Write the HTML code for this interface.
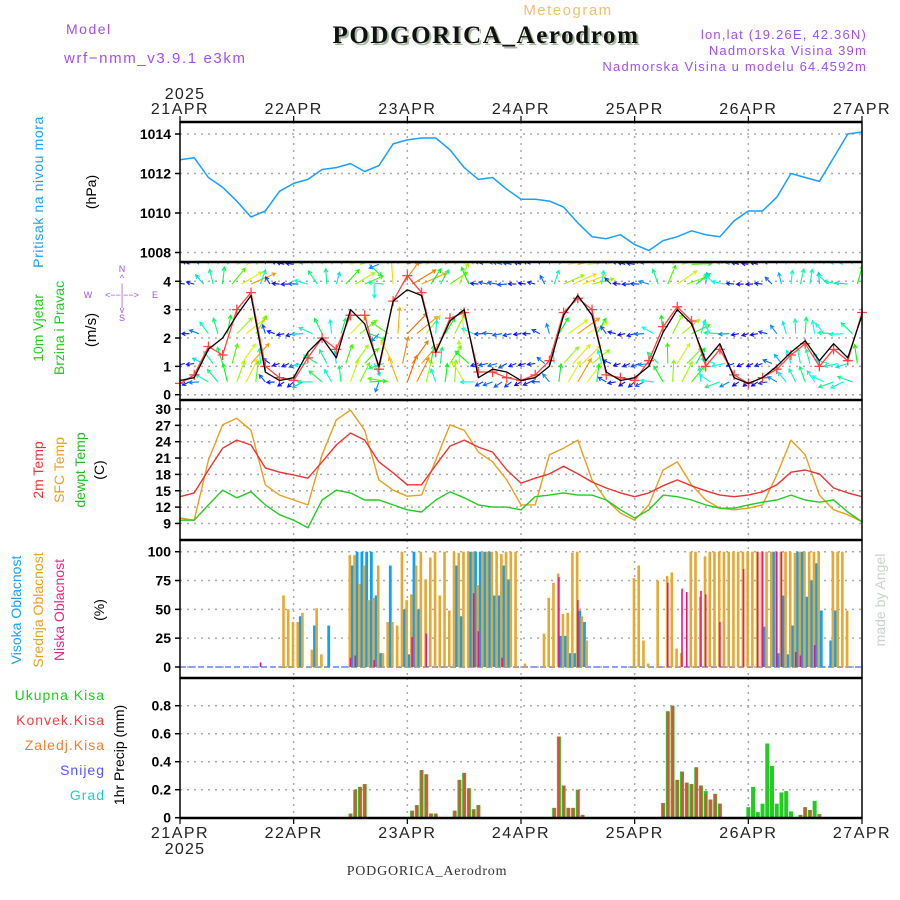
<!DOCTYPE html>
<html><head><meta charset="utf-8"><style>
html,body{margin:0;padding:0;background:#fff;}
svg{display:block;font-family:"Liberation Sans",sans-serif;}
</style></head><body>
<svg id="chart" width="900" height="900" viewBox="0 0 900 900" xmlns="http://www.w3.org/2000/svg">
<defs>
<clipPath id="clipWind"><rect x="180" y="263" width="682" height="137"/></clipPath>
</defs>
<rect x="0" y="0" width="900" height="900" fill="#fff"/>
<text x="66" y="34" font-size="14" fill="#a050f0" letter-spacing="1.5">Model</text>
<text x="64" y="63" font-size="15" fill="#a050f0" letter-spacing="1.6">wrf−nmm_v3.9.1 e3km</text>
<text x="568" y="15" font-size="15" fill="#f0c070" text-anchor="middle" letter-spacing="1.5">Meteogram</text>
<text x="488" y="45" font-size="25" font-weight="bold" font-family="Liberation Serif,serif" fill="#a8bca0" text-anchor="middle" letter-spacing="1.6">PODGORICA_Aerodrom</text>
<text x="486" y="43" font-size="25" font-weight="bold" font-family="Liberation Serif,serif" fill="#111" text-anchor="middle" letter-spacing="1.6">PODGORICA_Aerodrom</text>
<text x="867" y="39" font-size="13" fill="#a050f0" text-anchor="end" letter-spacing="1.2">lon,lat (19.26E, 42.36N)</text>
<text x="867" y="55" font-size="13" fill="#a050f0" text-anchor="end" letter-spacing="1.2">Nadmorska Visina 39m</text>
<text x="867" y="71" font-size="13" fill="#a050f0" text-anchor="end" letter-spacing="1.2">Nadmorska Visina u modelu 64.4592m</text>

<text x="185" y="99" font-size="16" fill="#222" text-anchor="middle" letter-spacing="1.2">2025</text>
<text x="185" y="854" font-size="16" fill="#222" text-anchor="middle" letter-spacing="1.2">2025</text>
<text x="427" y="875" font-size="14" font-family="Liberation Serif,serif" fill="#333" text-anchor="middle" letter-spacing="0.8">PODGORICA_Aerodrom</text>

<text transform="translate(43,192) rotate(-90)" font-size="14" fill="#1a9fff" text-anchor="middle" letter-spacing="0.6">Pritisak na nivou mora</text>
<text transform="translate(96,192) rotate(-90)" font-size="14" fill="#000" text-anchor="middle">(hPa)</text>
<text transform="translate(43,328) rotate(-90)" font-size="14" fill="#22cc22" text-anchor="middle">10m Vjetar</text>
<text transform="translate(64,328) rotate(-90)" font-size="14" fill="#22cc22" text-anchor="middle">Brzina i Pravac</text>
<text transform="translate(96,330) rotate(-90)" font-size="15" fill="#000" text-anchor="middle">(m/s)</text>
<g fill="#a050f0" font-size="9" text-anchor="middle">
<text x="122" y="272">N</text><text x="122" y="281">^</text><text x="122" y="290">|</text>
<text x="122" y="298">&lt;−−|−−&gt;</text><text x="88" y="298">W</text><text x="155" y="298">E</text>
<text x="122" y="306">|</text><text x="122" y="313">v</text><text x="122" y="321">S</text>
</g>
<text transform="translate(43,470) rotate(-90)" font-size="14" fill="#ee3333" text-anchor="middle">2m Temp</text>
<text transform="translate(64,470) rotate(-90)" font-size="14" fill="#e8a020" text-anchor="middle">SFC Temp</text>
<text transform="translate(85,470) rotate(-90)" font-size="14" fill="#22bb22" text-anchor="middle">dewpt Temp</text>
<text transform="translate(104,470) rotate(-90)" font-size="14" fill="#000" text-anchor="middle">(C)</text>
<text transform="translate(21,610) rotate(-90)" font-size="14" fill="#1a9fff" text-anchor="middle">Visoka Oblacnost</text>
<text transform="translate(43,610) rotate(-90)" font-size="14" fill="#e8a020" text-anchor="middle">Srednja Oblacnost</text>
<text transform="translate(64,610) rotate(-90)" font-size="14" fill="#ee2288" text-anchor="middle">Niska Oblacnost</text>
<text transform="translate(104,610) rotate(-90)" font-size="14" fill="#000" text-anchor="middle">(%)</text>
<text transform="translate(885,600) rotate(-90)" font-size="14" fill="#c8d4c8" text-anchor="middle">made by Angel</text>
<g font-size="14" text-anchor="end" letter-spacing="1">
<text x="105" y="700" fill="#22cc22">Ukupna  Kisa</text>
<text x="105" y="725" fill="#ee4444">Konvek.Kisa</text>
<text x="105" y="750" fill="#f08030">Zaledj.Kisa</text>
<text x="105" y="775" fill="#5555ff">Snijeg</text>
<text x="105" y="800" fill="#22cccc">Grad</text>
</g>
<text transform="translate(124,755) rotate(-90)" font-size="14" fill="#000" text-anchor="middle">1hr Precip (mm)</text>
<g id="plot"></g>
</svg>
<script>
// ---------- DATA ----------
const dayLabels = ["21APR","22APR","23APR","24APR","25APR","26APR","27APR"];
const pressureTicks = [1008,1010,1012,1014];
const windTicks = [0,1,2,3,4];
const tempTicks = [9,12,15,18,21,24,27,30];
const cloudTicks = [0,25,50,75,100];
const precipTicks = [0,0.2,0.4,0.6,0.8];
const precipTickLabels = ["0","0.2","0.4","0.6","0.8"];
// 3-hourly series (49 points, 21APR 00 .. 27APR 00)
const pressure = [1012.7,1012.8,1011.8,1011.3,1010.6,1009.8,1010.1,1011.1,1011.5,1011.7,1012.2,1012.3,1012.5,1012.1,1012.4,1013.5,1013.7,1013.8,1013.8,1013.2,1012.3,1011.7,1011.8,1011.2,1010.7,1010.7,1010.6,1010.3,1009.5,1008.8,1008.7,1008.9,1008.4,1008.1,1008.6,1008.8,1009.1,1008.9,1008.8,1009.6,1010.1,1010.1,1010.8,1012.0,1011.8,1011.6,1012.8,1014.0,1014.1];
const temp2m = [13.9,14.6,18.8,22.8,24.3,23.4,19.2,18.4,17.9,17.3,20.3,23.4,25.6,24.3,20.3,18.3,16.1,16.1,19.7,23.2,24.3,23.0,22.1,18.8,16.4,17.3,18.1,19.5,18.1,16.6,15.5,14.6,13.9,14.6,15.9,17.0,15.9,15.0,14.2,13.9,14.2,14.8,16.1,18.4,18.8,18.1,15.5,14.6,13.9];
const tempSfc = [10.0,9.6,20.6,27.1,28.3,26.1,16.1,14.2,13.3,12.4,21.6,28.0,29.8,26.1,17.0,15.1,14.0,14.2,20.6,27.1,26.1,22.1,20.3,17.0,12.4,12.4,21.6,22.8,24.3,17.0,13.3,10.9,9.6,12.4,18.8,20.3,16.1,13.3,11.8,11.5,11.8,12.4,17.9,24.3,21.6,14.2,11.5,10.6,9.3];
const dewpt = [9.6,9.6,12.4,15.1,13.7,14.8,12.4,10.6,9.6,8.2,13.3,15.1,14.6,13.3,13.3,12.4,11.5,11.1,13.3,14.8,13.7,12.4,12.0,12.0,11.5,13.9,14.2,14.6,14.2,14.2,13.3,11.5,10.0,11.5,14.2,13.9,13.3,12.4,11.8,11.8,12.4,12.9,13.3,14.2,13.3,12.9,13.3,11.1,9.3];
const windSpeed = [0.5,0.6,1.6,2.0,2.8,3.5,0.8,0.5,0.6,1.5,2.0,1.3,3.0,2.5,1.0,3.3,3.7,3.5,1.5,2.6,3.0,0.6,0.9,0.8,0.5,0.6,1.0,2.8,3.5,2.8,0.8,0.5,0.6,1.0,2.2,3.0,2.5,1.2,1.8,0.6,0.4,0.6,1.0,1.5,1.9,1.2,1.8,1.3,2.8];
const windGust = [0.4,0.7,1.7,1.4,3.0,3.6,1.0,0.6,0.5,1.3,2.0,1.6,2.8,2.8,0.9,3.3,4.2,3.6,1.5,2.7,2.9,0.8,0.8,0.6,0.5,0.7,1.2,2.9,3.4,3.0,0.7,0.6,0.5,1.2,2.4,3.1,2.6,1.0,1.6,0.7,0.4,0.6,0.9,1.4,1.8,1.0,1.6,1.2,2.9];
const windDir = [240,250,300,330,20,30,320,240,230,250,310,340,20,30,200,320,20,30,340,20,330,240,250,230,240,250,320,30,30,40,300,240,230,250,330,20,40,330,250,240,230,240,300,330,340,320,250,240,30];
const arrowRows = [0.45,1.1,2.15,3.9,4.6];
// hourly cloud cover (145 points)
const cloudMid = [0,0,0,0,0,0,0,0,0,0,0,0, 0,0,0,0,0,0,0,0,0,0,62,50, 39,39,47,0,15,51,11,0,0,0,0,0, 97,97,72,88,58,60,88,12,39,39,36,100, 58,63,88,100,76,95,100,62,100,49,100,99, 100,100,100,71,100,100,100,100,98,100,100,100, 0,3,0,0,0,29,60,73,81,46,47,99, 100,44,23,0,0,0,0,0,0,0,0,0, 77,88,23,3,0,75,0,79,82,16,12,0, 100,100,61,96,100,100,100,100,100,100,100,100, 100,100,100,100,100,100,100,100,100,100,99,100, 100,100,100,100,0,0,100,100,100,49,0,0, 0];
const cloudHigh = [0,0,0,0,0,0,0,0,0,0,0,0, 0,0,0,0,0,0,0,0,0,0,0,0, 0,44,0,0,36,0,0,36,0,0,0,0, 88,100,100,100,100,62,12,0,88,0,0,50, 11,100,50,0,0,0,0,0,0,0,88,44, 0,100,100,100,100,100,62,62,88,76,0,0, 0,0,0,0,0,0,0,0,27,27,12,12, 49,39,0,0,0,0,0,0,0,0,0,0, 0,0,0,0,0,0,0,0,0,0,0,0, 0,0,0,0,0,0,0,0,0,0,0,0, 0,0,0,35,0,100,12,62,11,36,100,100, 61,75,90,49,0,23,49,0,0,0,0,0, 0];
const cloudLow = [0,0,0,0,0,0,0,0,0,0,0,0, 0,0,0,0,0,4,0,0,0,0,0,0, 0,0,0,0,0,0,0,0,0,0,0,0, 8,10,0,0,0,6,0,0,0,0,0,0, 0,26,0,0,29,0,0,0,0,0,0,0, 0,0,64,31,0,0,0,0,8,0,0,0, 0,0,0,0,0,0,0,0,78,0,0,0, 58,0,0,0,0,0,0,0,0,0,0,0, 0,0,0,0,0,0,0,73,0,0,68,65, 0,0,66,63,0,0,39,0,0,0,0,85, 0,0,100,100,0,0,100,100,0,0,13,10, 0,0,19,0,0,0,0,0,0,0,0,0, 0];
// hourly precipitation (sparse)
const precipHours = [36,37,38,39,49,50,51,52,53,54,58,59,60,61,62,63,79,80,81,82,83,84,85,102,103,104,105,106,107,108,109,110,111,112,113,114,120,121,122,123,124,125,126,127,128,129,131,132,133,134,135];
const precipTotal = [0.03,0.2,0.22,0.24,0.05,0.09,0.34,0.31,0.03,0.03,0.05,0.27,0.32,0.21,0.06,0.09,0.07,0.58,0.23,0.07,0.07,0.2,0.02,0.105,0.76,0.8,0.27,0.33,0.25,0.24,0.36,0.23,0.19,0.13,0.17,0.1,0.075,0.22,0.04,0.1,0.53,0.37,0.1,0.18,0.19,0.045,0.02,0.075,0.055,0.12,0.025];
const precipConv = [0.03,0.2,0.22,0.24,0.05,0.09,0.34,0.31,0.03,0.03,0.05,0.27,0.32,0.21,0.06,0.09,0.07,0.58,0.23,0.07,0.07,0.2,0.02,0.105,0.76,0.8,0.27,0.33,0.25,0.24,0.36,0.23,0.17,0.13,0.17,0.1,0,0,0,0,0,0,0,0,0,0,0.02,0.075,0.055,0,0.025];

// ---------- AXES ----------
const X0 = 180, X1 = 862;
const xH = h => X0 + h * (X1 - X0) / 144;
const x3 = i => xH(i * 3);
const yP = v => 134 + (1014 - v) * 19.75;
const yW = v => 394.7 - v * 28.35;
const yT = v => 409 + (30 - v) * 5.45;
const yC = v => 667 - v * 1.153;
const yR = v => 817.7 - v * 140;
const panels = [
  {name:"pressure", top:122, bot:262, ticks:pressureTicks, labels:pressureTicks.map(String), f:yP},
  {name:"wind", top:262, bot:400, ticks:windTicks, labels:windTicks.map(String), f:yW},
  {name:"temp", top:400, bot:540, ticks:tempTicks, labels:tempTicks.map(String), f:yT},
  {name:"cloud", top:540, bot:678, ticks:cloudTicks, labels:cloudTicks.map(String), f:yC},
  {name:"precip", top:678, bot:818, ticks:precipTicks, labels:precipTickLabels, f:yR}
];
const NS = "http://www.w3.org/2000/svg";
const plot = document.getElementById('plot');
function mk(tag, attrs, parent) {
  const e = document.createElementNS(NS, tag);
  for (const k in attrs) e.setAttribute(k, attrs[k]);
  (parent || plot).appendChild(e);
  return e;
}
function grp(name) {
  const g = mk('g', {});
  
  
  return g;
}

// grids
const gridG = grp('grid');
panels.forEach(p => {
  p.ticks.forEach((t, k) => {
    const y = p.f(t);
    const gl = mk('line', {x1:X0, x2:X1, y1:y, y2:y, stroke:'#aaa', 'stroke-width':1.5, 'stroke-dasharray':'2,5'}, gridG);
    
    
    const tl = mk('text', {x:171, y:y+5, 'font-size':14, 'font-weight':'bold', 'text-anchor':'end', fill:'#000'}, gridG);
    tl.textContent = p.labels[k];
    
    
    const tk = mk('line', {x1:175, x2:X0, y1:y, y2:y, stroke:'#000', 'stroke-width':1.5}, gridG);
    
    
  });
  for (let d = 1; d < 6; d++) {
    const vx = xH(d * 24);
    const vl = mk('line', {x1:vx, x2:vx, y1:p.top, y2:p.bot, stroke:'#aaa', 'stroke-width':1.5, 'stroke-dasharray':'2,5'}, gridG);
    
    
  }
});
// date labels
const dateG = grp('date-axis');
dayLabels.forEach((lab, d) => {
  const dx = xH(d * 24);
  const t1 = mk('text', {x:dx, y:114, 'font-size':16, 'text-anchor':'middle', fill:'#222', 'letter-spacing':1.5}, dateG);
  t1.textContent = lab;
  
  
  const t2 = mk('text', {x:dx, y:838, 'font-size':16, 'text-anchor':'middle', fill:'#222', 'letter-spacing':1.5}, dateG);
  t2.textContent = lab;
  
  
  const k1 = mk('line', {x1:dx, x2:dx, y1:116, y2:122, stroke:'#000', 'stroke-width':1.2}, dateG);
  
  
  const k2 = mk('line', {x1:dx, x2:dx, y1:818, y2:824, stroke:'#000', 'stroke-width':1.2}, dateG);
  
  
});

function polyline(vals, xf, yf, color, width, name, parent) {
  const pts = vals.map((v, i) => xf(i).toFixed(1) + ',' + yf(v).toFixed(1)).join(' ');
  const pl = mk('polyline', {points:pts, fill:'none', stroke:color, 'stroke-width':width, 'stroke-linejoin':'round'}, parent);
  
  
  return pl;
}

// pressure
const presG = grp('pressure-series');
polyline(pressure, x3, yP, '#1a9fff', 1.5, 'pressure-line', presG);

// wind arrows
const windG = grp('wind-arrows');
windG.setAttribute('clip-path', 'url(#clipWind)');
function lerp(arr, h) {
  const i = Math.min(Math.floor(h / 3), arr.length - 2), f = h / 3 - i;
  return arr[i] * (1 - f) + arr[i + 1] * f;
}
function lerpAngle(arr, h) {
  const i = Math.min(Math.floor(h / 3), arr.length - 2), f = h / 3 - i;
  let a = arr[i], b = arr[i + 1], d = ((b - a + 540) % 360) - 180;
  return a + d * f;
}
arrowRows.forEach((row, r) => {
  for (let h = r % 2; h <= 144; h += 2) {
    const s = lerp(windSpeed, h);
    const dir = (lerpAngle(windDir, h) + r * 12) * Math.PI / 180;
    const L = 4 + s * 6.5;
    const ax = xH(h), ay = yW(row);
    const ex = ax + L * Math.sin(dir), ey = ay - L * Math.cos(dir);
    const hue = Math.max(0, 275 - s * 68);
    const col = 'hsl(' + hue.toFixed(0) + ',95%,50%)';
    const ar = mk('path', {d:'M' + ax.toFixed(1) + ' ' + ay.toFixed(1) + 'L' + ex.toFixed(1) + ' ' + ey.toFixed(1) +
      'M' + (ex - 4 * Math.sin(dir - 0.5)).toFixed(1) + ' ' + (ey + 4 * Math.cos(dir - 0.5)).toFixed(1) + 'L' + ex.toFixed(1) + ' ' + ey.toFixed(1) +
      'L' + (ex - 4 * Math.sin(dir + 0.5)).toFixed(1) + ' ' + (ey + 4 * Math.cos(dir + 0.5)).toFixed(1),
      fill:'none', stroke:col, 'stroke-width':1.1}, windG);
    
    
  }
});
const windLineG = grp('wind-speed-series');
polyline(windGust, x3, yW, '#ff4444', 1.3, 'wind-gust-line', windLineG);
windGust.forEach((v, i) => {
  const cx = x3(i), cy = yW(v);
  const m = mk('path', {d:'M' + (cx - 5) + ' ' + cy + 'H' + (cx + 5) + 'M' + cx + ' ' + (cy - 5) + 'V' + (cy + 5), stroke:'#ff4444', 'stroke-width':1.3}, windLineG);
  
  
});
polyline(windSpeed, x3, yW, '#000', 1.3, 'wind-speed-line', windLineG);

// temperatures
const tempG = grp('temperature-series');
polyline(tempSfc, x3, yT, '#e8a020', 1.4, 'sfc-temp-line', tempG);
polyline(temp2m, x3, yT, '#ee3333', 1.4, 'temp-2m-line', tempG);
polyline(dewpt, x3, yT, '#22cc22', 1.4, 'dewpoint-line', tempG);

// clouds
const cloudG = grp('cloud-bars');
const base = mk('line', {x1:X0, x2:X1, y1:yC(0), y2:yC(0), stroke:'#8aa0ff', 'stroke-width':2, 'stroke-dasharray':'6,3'}, cloudG);


for (let h = 0; h <= 144; h++) {
  const bx = xH(h);
  if (cloudMid[h] > 0) {
    const b = mk('rect', {x:bx - 2, y:yC(cloudMid[h]), width:2.6, height:yC(0) - yC(cloudMid[h]), fill:'#e8a830'}, cloudG);
    
    
  }
  if (cloudHigh[h] > 0) {
    const b = mk('rect', {x:bx + 0.5, y:yC(cloudHigh[h]), width:2.8, height:yC(0) - yC(cloudHigh[h]), fill:'#10a0f8'}, cloudG);
    
    
  }
  if (cloudLow[h] > 0) {
    const b = mk('rect', {x:bx - 0.8, y:yC(cloudLow[h]), width:1.6, height:yC(0) - yC(cloudLow[h]), fill:'#f0147a'}, cloudG);
    
    
  }
}

// precipitation
const precG = grp('precip-bars');
precipHours.forEach((h, i) => {
  const bx = xH(h);
  const g = mk('rect', {x:bx - 2, y:yR(precipTotal[i]), width:4, height:yR(0) - yR(precipTotal[i]), fill:'#22cc22'}, precG);
  
  
  if (precipConv[i] > 0) {
    const c = mk('rect', {x:bx - 1, y:yR(precipConv[i]), width:2.2, height:yR(0) - yR(precipConv[i]), fill:'#ee4444'}, precG);
    
    
  }
});

// frames
const frameG = grp('panel-frames');
panels.forEach(p => {
  const r = mk('rect', {x:X0, y:p.top, width:X1 - X0, height:p.bot - p.top, fill:'none', stroke:'#000', 'stroke-width':1.5}, frameG);
  
  
});
[122, 262, 400, 540, 678, 818].forEach(y => {
  const l = mk('line', {x1:X0, x2:X1, y1:y, y2:y, stroke:'#000', 'stroke-width':2.5}, frameG);
  
  
});
</script>
</body></html>
